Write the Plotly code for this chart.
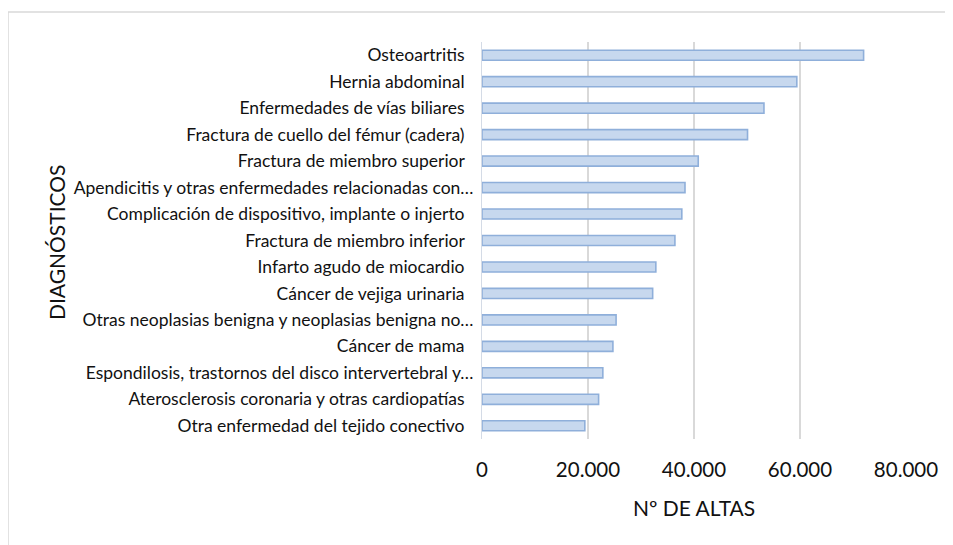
import plotly.graph_objects as go

categories = [
    "Osteoartritis",
    "Hernia abdominal",
    "Enfermedades de vías biliares",
    "Fractura de cuello del fémur (cadera)",
    "Fractura de miembro superior",
    "Apendicitis y otras enfermedades relacionadas con…",
    "Complicación de dispositivo, implante o injerto",
    "Fractura de miembro inferior",
    "Infarto agudo de miocardio",
    "Cáncer de vejiga urinaria",
    "Otras neoplasias benigna y neoplasias benigna no…",
    "Cáncer de mama",
    "Espondilosis, trastornos del disco intervertebral y…",
    "Aterosclerosis coronaria y otras cardiopatías",
    "Otra enfermedad del tejido conectivo",
]
altas = [72000, 59400, 53200, 50100, 40800, 38300, 37700, 36400, 32800,
         32200, 25300, 24700, 22800, 22000, 19400]
x_ticks = [0, 20000, 40000, 60000, 80000]
x_tick_labels = ["0", "20.000", "40.000", "60.000", "80.000"]

# full labels end a little before truncated ones (as in the source chart)
y_tick_labels = [c if c.endswith("…") else c + "\u00a0" * 2 for c in categories]

# page has an 8px body margin; figure coords are page coords minus 8
W, H = 945, 537
L, T = 474, 34
R, B = W - 898, H - 431
pw, ph = W - L - R, H - T - B

font = "Lato, 'Open Sans', sans-serif"


def px_x(x):
    return (x - L) / pw


def px_y(y):
    return (T + ph - y) / ph


fig = go.Figure(go.Bar(
    x=altas, y=categories, orientation="h", width=0.38,
    marker=dict(color="#c7d8ee", line=dict(color="#8fafda", width=1.6)),
))

fig.update_layout(
    width=W, height=H,
    margin=dict(l=L, r=R, t=T, b=B, autoexpand=False),
    paper_bgcolor="white", plot_bgcolor="white",
    showlegend=False,
    separators=",.",
    font=dict(family=font, color="#000000"),
    xaxis=dict(
        range=[0, 80000], tickvals=x_ticks, ticktext=x_tick_labels,
        showgrid=True, gridcolor="#d9d9d9", gridwidth=2,
        zeroline=False, showline=False, ticks="",
        tickfont=dict(size=20.5, color="#111111"),
        ticklabelstandoff=16,
    ),
    yaxis=dict(
        autorange="reversed", showgrid=False, zeroline=False,
        showline=True, linecolor="#d4dbe6", linewidth=1, ticks="",
        tickvals=categories, ticktext=y_tick_labels,
        tickfont=dict(size=17.5, color="#111111"),
        ticklabelstandoff=4,
    ),
    annotations=[
        dict(text="DIAGNÓSTICOS", textangle=-90, xref="paper", yref="paper",
             x=px_x(48), y=px_y(235), xanchor="center", yanchor="middle",
             showarrow=False, font=dict(size=21, color="#111111", family=font)),
        dict(text="Nº DE ALTAS", xref="paper", yref="paper",
             x=px_x(686), y=px_y(499), xanchor="center", yanchor="middle",
             showarrow=False, font=dict(size=21, color="#111111", family=font)),
    ],
    shapes=[
        dict(type="rect", xref="paper", yref="paper",
             x0=px_x(0), x1=px_x(960),
             y0=px_y(560), y1=px_y(4),
             line=dict(color="#d9d9d9", width=1.5), fillcolor="rgba(0,0,0,0)", layer="below"),
    ],
)
fig.write_html("out.html")
